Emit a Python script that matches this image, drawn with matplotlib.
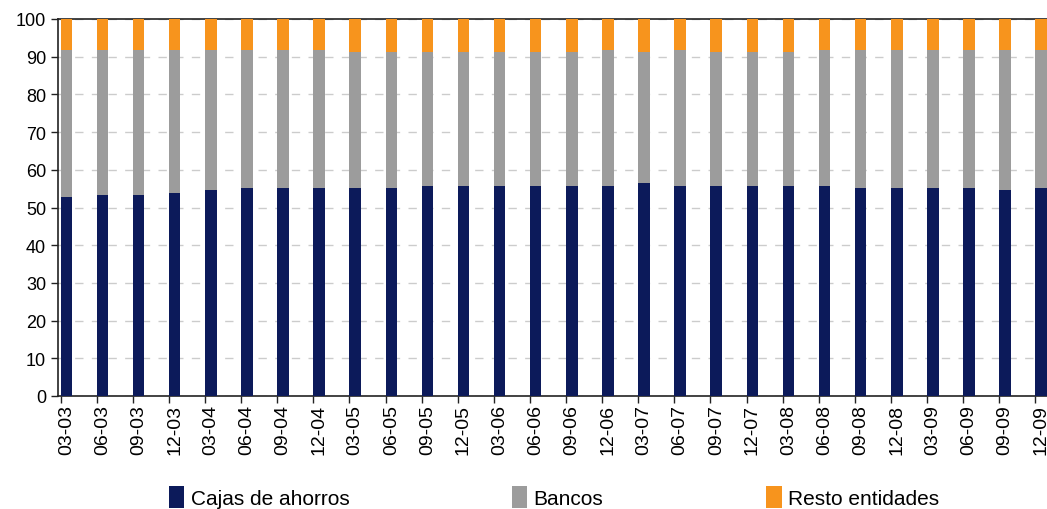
import matplotlib
matplotlib.use("Agg")
import matplotlib.pyplot as plt
import numpy as np

plt.rcParams['font.family'] = ['Liberation Sans', 'DejaVu Sans']

categories = ["03-03", "06-03", "09-03", "12-03", "03-04", "06-04", "09-04", "12-04",
              "03-05", "06-05", "09-05", "12-05", "03-06", "06-06", "09-06", "12-06",
              "03-07", "06-07", "09-07", "12-07", "03-08", "06-08", "09-08", "12-08",
              "03-09", "06-09", "09-09", "12-09"]
cajas = [52.8, 53.3, 53.3, 53.8, 54.6, 55.2, 55.2, 55.2,
         55.2, 55.2, 55.7, 55.7, 55.7, 55.7, 55.7, 55.7,
         56.5, 55.7, 55.7, 55.7, 55.7, 55.7, 55.2, 55.2,
         55.2, 55.2, 54.6, 55.2]
bancos = [39.0, 38.5, 38.5, 38.0, 37.2, 36.6, 36.6, 36.6,
          36.0, 36.0, 35.5, 35.5, 35.5, 35.5, 35.5, 36.1,
          34.7, 36.1, 35.5, 35.5, 35.5, 36.1, 36.6, 36.6,
          36.6, 36.6, 37.2, 36.6]
resto = [100 - c - b for c, b in zip(cajas, bancos)]

c_cajas = "#0C1A5A"
c_bancos = "#9C9C9C"
c_resto = "#F7941D"

fig = plt.figure(figsize=(10.47, 5.10), dpi=100)
ax = fig.add_axes([58/1047, 113/510, 1 - 58/1047, 377/510])

x = np.arange(len(categories))
w = 0.32
ax.bar(x, cajas, width=w, color=c_cajas, label="Cajas de ahorros", zorder=3)
ax.bar(x, bancos, width=w, bottom=cajas, color=c_bancos, label="Bancos", zorder=3)
ax.bar(x, resto, width=w, bottom=[c + b for c, b in zip(cajas, bancos)],
       color=c_resto, label="Resto entidades", zorder=3)

ax.set_xlim(-0.23, 27.16)
ax.set_ylim(0, 100)
ax.set_yticks(np.arange(0, 101, 10))
ax.tick_params(axis='y', labelsize=13, length=5, width=1, direction='out', color='#222222')
ax.yaxis.grid(True, linestyle=(0, (6, 6)), color='#CCCCCC', linewidth=1, zorder=0)

ax.set_xticks(x)
ax.set_xticklabels(categories, rotation=90, fontsize=14)
ax.tick_params(axis='x', length=0, pad=6)
ax.set_xticks(x - w / 2, minor=True)
ax.tick_params(axis='x', which='minor', length=5, width=1, color='#222222')

for s in ['left', 'bottom', 'top']:
    ax.spines[s].set_color('#222222')
    ax.spines[s].set_linewidth(1.2)
ax.spines['right'].set_visible(False)

fig.legend(loc='lower center', bbox_to_anchor=(0.529, -0.035), ncol=3, frameon=False,
           fontsize=15, handlelength=0.75, handleheight=1.2, handletextpad=0.3,
           columnspacing=7.8)

fig.savefig("out.png", dpi=100)
